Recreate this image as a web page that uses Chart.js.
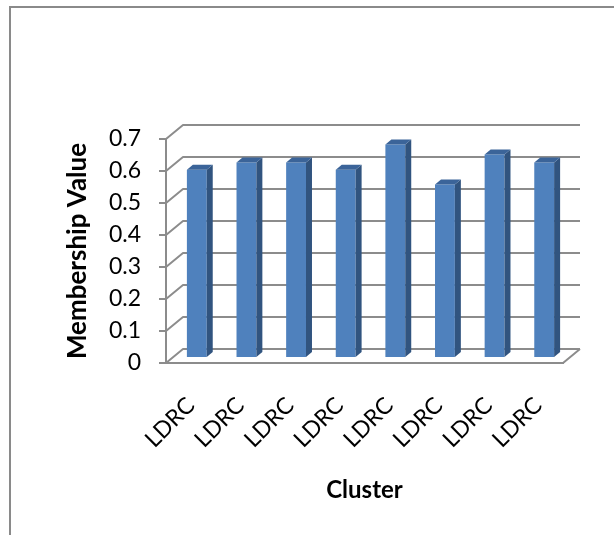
<!DOCTYPE html>
<html>
<head>
<meta charset="utf-8">
<script src="https://cdn.jsdelivr.net/npm/chart.js@4.4.0/dist/chart.umd.min.js"></script>
<style>
  html, body { margin: 0; padding: 0; background: #ffffff; }
  canvas { display: block; }
</style>
</head>
<body>
<canvas id="chart" width="614" height="535"></canvas>
<script>
// Membership value of each cluster
const categories = ['LDRC', 'LDRC', 'LDRC', 'LDRC', 'LDRC', 'LDRC', 'LDRC', 'LDRC'];
const membershipValues = [0.588, 0.611, 0.611, 0.588, 0.667, 0.542, 0.636, 0.611];
const yTicks = [0, 0.1, 0.2, 0.3, 0.4, 0.5, 0.6, 0.7];
const yTitle = 'Membership Value';
const xTitle = 'Cluster';

const GRID = '#8c8c8c';
const FONT = 'Lato, "Open Sans", sans-serif';
const WALL = { dx: 17, dy: -14 };      // depth of the back wall
const BAR_SHIFT = { dx: 6, dy: -5 };   // front face of the columns inside the depth
const BAR_DEPTH = { dx: 6, dy: -5 };   // depth of each column

// Oblique 3-D look: walls and floor behind, side and top faces on the columns
const depth3d = {
  id: 'depth3d',
  beforeDraw(chart) {
    const ctx = chart.ctx;
    ctx.save();
    ctx.strokeStyle = '#8a8a8a';
    ctx.lineWidth = 2;
    ctx.beginPath();
    ctx.moveTo(10, chart.height);
    ctx.lineTo(10, 7);
    ctx.lineTo(chart.width, 7);
    ctx.stroke();
    ctx.restore();
  },
  beforeDatasetsDraw(chart) {
    const { ctx, chartArea: a, scales: { y } } = chart;
    ctx.save();
    ctx.strokeStyle = GRID;
    ctx.lineWidth = 2;
    ctx.lineJoin = 'round';
    ctx.beginPath();
    yTicks.forEach(v => {
      const py = Math.round(y.getPixelForValue(v));
      ctx.moveTo(a.left, py);
      ctx.lineTo(a.left + WALL.dx, py + WALL.dy);
      ctx.lineTo(a.right + WALL.dx, py + WALL.dy);
    });
    const pb = Math.round(y.getPixelForValue(0));
    ctx.moveTo(a.right, pb);
    ctx.lineTo(a.right + WALL.dx, pb + WALL.dy);
    ctx.stroke();
    ctx.restore();
    // columns sit part-way into the depth
    ctx.save();
    ctx.translate(BAR_SHIFT.dx, BAR_SHIFT.dy);
  },
  afterDatasetsDraw(chart) {
    const ctx = chart.ctx;
    const { dx, dy } = BAR_DEPTH;
    chart.getDatasetMeta(0).data.forEach(bar => {
      const { x, y, base, width } = bar.getProps(['x', 'y', 'base', 'width'], true);
      const l = x - width / 2, r = x + width / 2;
      ctx.fillStyle = '#31547f';
      ctx.beginPath();
      ctx.moveTo(r, y);
      ctx.lineTo(r + dx, y + dy);
      ctx.lineTo(r + dx, base + dy);
      ctx.lineTo(r, base);
      ctx.closePath();
      ctx.fill();
      ctx.fillStyle = '#3b6499';
      ctx.beginPath();
      ctx.moveTo(l, y);
      ctx.lineTo(l + dx, y + dy);
      ctx.lineTo(r + dx, y + dy);
      ctx.lineTo(r, y);
      ctx.closePath();
      ctx.fill();
    });
    ctx.restore();
  }
};

new Chart(document.getElementById('chart'), {
  type: 'bar',
  data: {
    labels: categories,
    datasets: [{
      data: membershipValues,
      backgroundColor: '#4f81bd',
      borderWidth: 0,
      barPercentage: 0.4,
      categoryPercentage: 1.0
    }]
  },
  options: {
    responsive: false,
    animation: false,
    layout: { padding: { left: 58, right: 51, top: 139, bottom: 26 } },
    plugins: { legend: { display: false }, tooltip: { enabled: false } },
    scales: {
      x: {
        grid: { display: false, drawTicks: false },
        border: { display: true, color: GRID, width: 2 },
        ticks: {
          minRotation: 45, maxRotation: 45, padding: 29, autoSkip: false,
          color: '#000', font: { family: FONT, size: 23 }
        },
        title: {
          display: true, text: xTitle, color: '#000',
          font: { family: FONT, size: 24, weight: 'bold' },
          padding: { top: 4, bottom: 4 }
        },
        afterFit(s) { s.height = 146; }
      },
      y: {
        min: 0, max: 0.7,
        afterBuildTicks(s) { s.ticks = yTicks.map(v => ({ value: v })); },
        grid: { drawOnChartArea: false, drawTicks: true, tickLength: 7, color: GRID, lineWidth: 2 },
        border: { display: true, color: GRID, width: 2 },
        ticks: {
          padding: 18, color: '#000', font: { family: FONT, size: 23 },
          callback: v => String(v)
        },
        title: {
          display: true, text: yTitle, color: '#000',
          font: { family: FONT, size: 26, weight: 'bold' },
          padding: { top: 4, bottom: 4 }
        },
        afterFit(s) { s.width = 108; }
      }
    }
  },
  plugins: [depth3d]
});
</script>
</body>
</html>
